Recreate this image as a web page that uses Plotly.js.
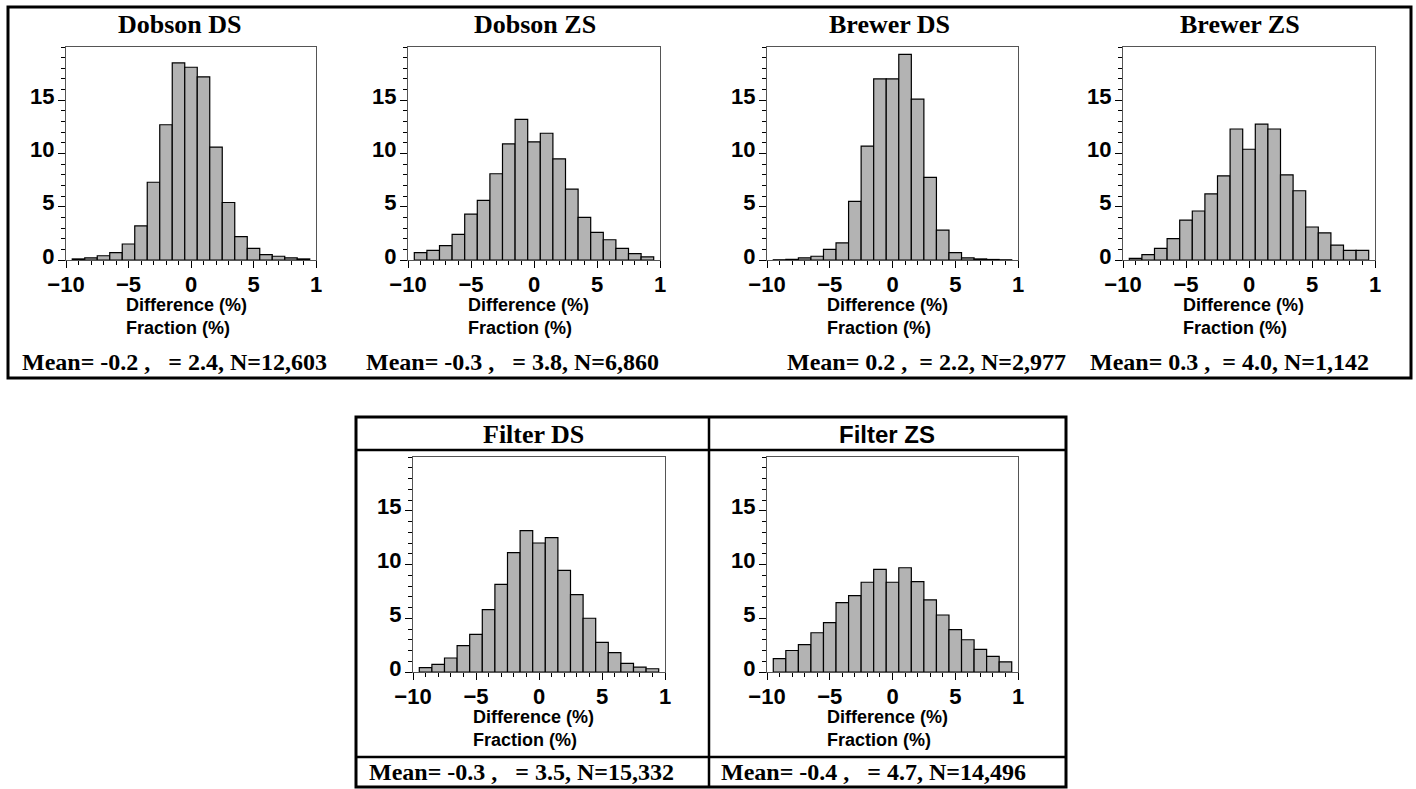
<!DOCTYPE html>
<html>
<head>
<meta charset="utf-8">
<script src="https://cdn.plot.ly/plotly-3.0.1.min.js"></script>
<style>
  html, body { margin: 0; padding: 0; background: #fff; }
  #chart { width: 1416px; height: 789px; }
</style>
</head>
<body>
<div id="chart"></div>
<script>
// ---------------- DATA ----------------
const bins = [-9, -8, -7, -6, -5, -4, -3, -2, -1, 0, 1, 2, 3, 4, 5, 6, 7, 8, 9];

const dobsonDS  = [0.1, 0.2, 0.4, 0.7, 1.5, 3.2, 7.3, 12.7, 18.5, 18.1, 17.2, 10.6, 5.4, 2.2, 1.1, 0.5, 0.35, 0.2, 0.1];
const dobsonZS  = [0.7, 0.9, 1.35, 2.4, 4.3, 5.6, 8.1, 10.9, 13.2, 11.1, 11.9, 9.5, 6.65, 4.0, 2.6, 1.9, 1.1, 0.6, 0.3];
const brewerDS  = [0.02, 0.06, 0.2, 0.35, 1.0, 1.6, 5.5, 10.7, 17.0, 17.0, 19.3, 15.1, 7.75, 2.8, 0.7, 0.2, 0.1, 0.05, 0.02];
const brewerZS  = [0.15, 0.5, 1.1, 2.0, 3.75, 4.6, 6.2, 7.9, 12.3, 10.4, 12.75, 12.3, 8.0, 6.5, 3.1, 2.55, 1.4, 0.9, 0.9];
const filterDS  = [0.4, 0.7, 1.3, 2.45, 3.5, 5.8, 8.15, 11.1, 13.15, 12.0, 12.5, 9.45, 7.2, 5.0, 2.75, 1.8, 0.8, 0.45, 0.3];
const filterZS  = [1.25, 2.0, 2.55, 3.65, 4.6, 6.45, 7.1, 8.35, 9.55, 8.35, 9.7, 8.4, 6.7, 5.3, 3.95, 3.0, 2.1, 1.45, 0.95];

const panelTitles = ['Dobson DS', 'Dobson ZS', 'Brewer DS', 'Brewer ZS', 'Filter DS', 'Filter ZS'];
const panelStats = [
  'Mean= -0.2 ,\u00a0\u00a0\u00a0= 2.4, N=12,603',
  'Mean= -0.3 ,\u00a0\u00a0\u00a0= 3.8, N=6,860',
  'Mean= 0.2 ,\u00a0\u00a0= 2.2, N=2,977',
  'Mean= 0.3 ,\u00a0\u00a0= 4.0, N=1,142',
  'Mean= -0.3 ,\u00a0\u00a0\u00a0= 3.5, N=15,332',
  'Mean= -0.4 ,\u00a0\u00a0\u00a0= 4.7, N=14,496'
];
const xTitle = 'Difference (%)';
const yTitle = 'Fraction (%)';

const xTickVals = [-10, -5, 0, 5, 10];
const xTickText = ['\u221210', '\u22125', '0', '5', '1'];
const yTickVals = [0, 5, 10, 15];
const yTickText = ['0', '5', '10', '15'];

const seriesList = [dobsonDS, dobsonZS, brewerDS, brewerZS, filterDS, filterZS];

// ---------------- LAYOUT GEOMETRY (pixels) ----------------
const W = 1416, H = 789;
const panels = [
  { l: 66,   r: 316,  t: 47,  b: 260, titleX: 180, titleY: 25,  titleFont: 'serif', statX: 20,   statY: 362 },
  { l: 408,  r: 660,  t: 47,  b: 260, titleX: 535, titleY: 25,  titleFont: 'serif', statX: 364,  statY: 362 },
  { l: 767,  r: 1018, t: 47,  b: 260, titleX: 890, titleY: 25,  titleFont: 'serif', statX: 785,  statY: 362 },
  { l: 1123, r: 1375, t: 47,  b: 260, titleX: 1240, titleY: 25, titleFont: 'serif', statX: 1088, statY: 362 },
  { l: 413,  r: 665,  t: 457, b: 672, titleX: 533, titleY: 434, titleFont: 'serif', statX: 367,  statY: 772 },
  { l: 767,  r: 1018, t: 457, b: 672, titleX: 887, titleY: 434, titleFont: 'sans',  statX: 719,  statY: 772 }
];
const px = v => v / W;
const py = v => 1 - v / H;

const traces = [];
const layout = {
  width: W, height: H,
  margin: { l: 0, r: 0, t: 0, b: 0 },
  paper_bgcolor: '#ffffff',
  plot_bgcolor: '#ffffff',
  showlegend: false,
  bargap: 0,
  annotations: [],
  shapes: []
};

const tickFont = { family: 'Liberation Sans, Arial, sans-serif', size: 22, color: '#000', weight: 'bold' };
const serifBold = { family: 'Liberation Serif, Times New Roman, serif', size: 26, color: '#000', weight: 'bold' };
const sansBold = { family: 'Liberation Sans, Arial, sans-serif', size: 24, color: '#000', weight: 'bold' };
const labelFont = { family: 'Liberation Sans, Arial, sans-serif', size: 18, color: '#000', weight: 'bold' };
const statFont = { family: 'Liberation Serif, Times New Roman, serif', size: 24, color: '#000', weight: 'bold' };

panels.forEach((p, i) => {
  const n = i + 1;
  const xa = n === 1 ? 'xaxis' : 'xaxis' + n;
  const ya = n === 1 ? 'yaxis' : 'yaxis' + n;
  traces.push({
    type: 'bar',
    x: bins,
    y: seriesList[i],
    width: 1,
    xaxis: 'x' + (n === 1 ? '' : n),
    yaxis: 'y' + (n === 1 ? '' : n),
    marker: { color: '#b3b3b3', line: { color: '#000', width: 1.2 } },
    hoverinfo: 'x+y'
  });
  layout[xa] = {
    domain: [px(p.l), px(p.r)],
    anchor: 'y' + (n === 1 ? '' : n),
    range: [-10, 10],
    tickmode: 'array', tickvals: xTickVals, ticktext: xTickText,
    ticks: 'outside', ticklen: 7, tickwidth: 1, tickcolor: '#000',
    minor: { tickmode: 'linear', tick0: -10, dtick: 1, ticks: 'outside', ticklen: 4, tickcolor: '#000', tickwidth: 1 },
    tickfont: tickFont,
    ticklabelstandoff: -3,
    showline: true, linecolor: '#555', linewidth: 1.2, mirror: true,
    showgrid: false, zeroline: false, fixedrange: true
  };
  layout[ya] = {
    domain: [py(p.b), py(p.t)],
    anchor: 'x' + (n === 1 ? '' : n),
    range: [0, 20],
    tickmode: 'array', tickvals: yTickVals, ticktext: yTickText,
    ticks: 'outside', ticklen: 7, tickwidth: 1, tickcolor: '#000',
    minor: { tickmode: 'linear', tick0: 0, dtick: 1, ticks: 'outside', ticklen: 4, tickcolor: '#000', tickwidth: 1 },
    tickfont: tickFont,
    ticklabelshift: -4,
    ticklabelstandoff: -1,
    showline: true, linecolor: '#555', linewidth: 1.2, mirror: true,
    showgrid: false, zeroline: false, fixedrange: true
  };
  // panel title
  layout.annotations.push({
    xref: 'paper', yref: 'paper', x: px(p.titleX), y: py(p.titleY),
    xanchor: 'center', yanchor: 'middle', showarrow: false,
    text: panelTitles[i], font: p.titleFont === 'serif' ? serifBold : sansBold
  });
  // axis labels (left-aligned block below the x axis)
  layout.annotations.push({
    xref: 'paper', yref: 'paper', x: px(p.l + 58), y: py(p.b + 45),
    xanchor: 'left', yanchor: 'middle', showarrow: false,
    text: xTitle, font: labelFont
  });
  layout.annotations.push({
    xref: 'paper', yref: 'paper', x: px(p.l + 58), y: py(p.b + 68),
    xanchor: 'left', yanchor: 'middle', showarrow: false,
    text: yTitle, font: labelFont
  });
  // statistics line
  layout.annotations.push({
    xref: 'paper', yref: 'paper', x: px(p.statX), y: py(p.statY),
    xanchor: 'left', yanchor: 'middle', showarrow: false,
    text: panelStats[i], font: statFont
  });
});

// frames
function rect(x0, y0, x1, y1, w) {
  layout.shapes.push({ type: 'rect', xref: 'paper', yref: 'paper',
    x0: px(x0), x1: px(x1), y0: py(y1), y1: py(y0), line: { color: '#000', width: w }, fillcolor: 'rgba(0,0,0,0)' });
}
function line(x0, y0, x1, y1, w) {
  layout.shapes.push({ type: 'line', xref: 'paper', yref: 'paper',
    x0: px(x0), x1: px(x1), y0: py(y0), y1: py(y1), line: { color: '#000', width: w } });
}
rect(8, 7, 1411, 378, 3);
rect(356, 417, 1066, 787, 3);
line(709, 417, 709, 787, 2.5);
line(356, 450, 1066, 450, 2.5);
line(356, 757, 1066, 757, 2.5);

Plotly.newPlot('chart', traces, layout, { displayModeBar: false, staticPlot: true });
</script>
</body>
</html>
